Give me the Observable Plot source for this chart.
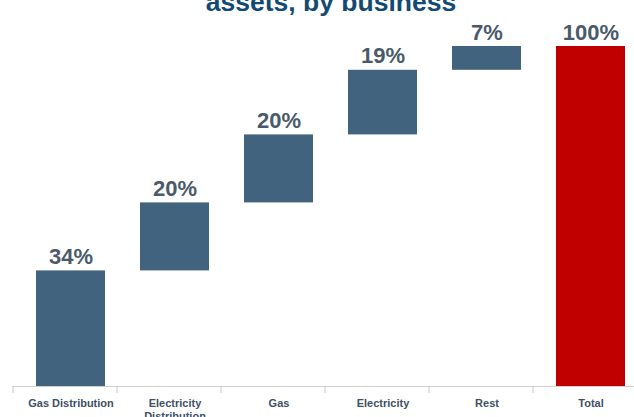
<!DOCTYPE html>
<html><head><meta charset="utf-8">
<script src="https://cdn.jsdelivr.net/npm/d3@7"></script>
<script src="https://cdn.jsdelivr.net/npm/@observablehq/plot@0.6"></script>
<style>
body{margin:0;background:#fff;font-family:"Liberation Sans",Arial,sans-serif;}
#wrap{position:relative;width:634px;height:417px;overflow:hidden;}
#title{position:absolute;left:14px;width:634px;top:-11px;text-align:center;font-weight:bold;font-size:26.5px;line-height:26.5px;color:#134a73;white-space:nowrap;}
#chart{position:absolute;left:0;top:0;}
</style></head><body>
<div id="wrap"><div id="chart"></div><div id="title">assets, by business</div></div>
<script>
const categories = ["Gas Distribution", "Electricity\nDistribution", "Gas", "Electricity", "Rest", "Total"];
const shares = [34, 20, 20, 19, 7, 100];
const kinds = ["step", "step", "step", "step", "step", "total"];
const valueLabels = ["34%", "20%", "20%", "19%", "7%", "100%"];

let acc = 0;
const rows = categories.map((cat, i) => {
  if (kinds[i] === "total") return {cat, kind: kinds[i], y1: 0, y2: shares[i], label: valueLabels[i]};
  const y1 = acc; acc += shares[i];
  return {cat, kind: kinds[i], y1, y2: acc, label: valueLabels[i]};
});

const chart = Plot.plot({
  width: 634, height: 417,
  marginTop: 46, marginBottom: 31, marginLeft: 12, marginRight: 0,
  style: {fontFamily: "Liberation Sans, Arial, sans-serif", background: "transparent", overflow: "visible"},
  x: {domain: categories, range: [0, 661], padding: 0.34, axis: null, label: null},
  y: {domain: [0, 100], axis: null},
  color: {domain: ["step", "total"], range: ["#42637d", "#c00000"]},
  marks: [
    Plot.barY(rows, {x: "cat", y1: "y1", y2: "y2", fill: "kind"}),
    Plot.text(rows, {x: "cat", y: "y2", text: "label", lineAnchor: "bottom", dy: -7, fontSize: 22, fontWeight: "bold", fill: "#4a5a6b"}),
    Plot.ruleY([0], {stroke: "#d0d0d0"}),
    Plot.axisX({anchor: "bottom", tickSize: 7, tickFormat: () => "", label: null, dx: -58, stroke: "#c8c8c8"}),
    Plot.text(categories, {x: d => d, text: d => d, frameAnchor: "bottom", lineAnchor: "top", dy: 11, lineHeight: 1.2, fontSize: 11, fontWeight: "bold", fill: "#3e5064"})
  ]
});
document.getElementById("chart").appendChild(chart);
</script>
</body></html>
